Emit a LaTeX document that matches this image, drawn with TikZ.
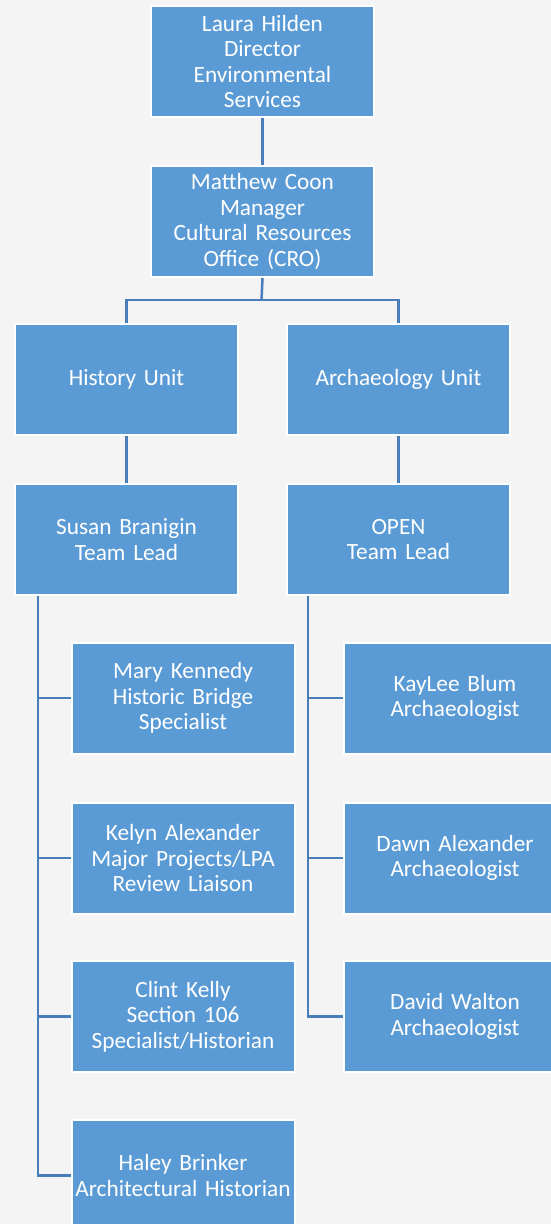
\documentclass[tikz,border=0pt]{standalone}
\usepackage{fontspec}
\setmainfont{Carlito}
\definecolor{bg}{HTML}{F4F4F4}
\definecolor{boxfill}{HTML}{5B9BD5}
\definecolor{connc}{HTML}{4A7EBB}
\begin{document}
\begin{tikzpicture}[x=1pt,y=-1pt,
 box/.style={draw=white, line width=2pt, fill=boxfill, text=white, minimum width=223pt, minimum height=111pt, align=center, inner sep=0pt, font=\fontsize{23.3}{25.5}\selectfont, anchor=north west, text width=222pt},
 conn/.style={draw=connc, line width=2.5pt}]
\useasboundingbox (0,0) rectangle (551,1224);
\clip (0,0) rectangle (551,1224);
\fill[bg] (0,0) rectangle (551,1224);

\node[box] (laura) at (150,5) {Laura Hilden\\Director\\Environmental\\Services};
\node[box] (matt) at (150,165) {Matthew Coon\\Manager\\Cultural Resources\\Office (CRO)};
\node[box] (hist) at (14,323) {History Unit};
\node[box] (arch) at (286,323) {Archaeology Unit};
\node[box] (susan) at (14,483) {Susan Branigin\\Team Lead};
\node[box] (open) at (286,483) {OPEN\\Team Lead};
\node[box] (mary) at (70.5,641.5) {Mary Kennedy\\Historic Bridge\\Specialist};
\node[box] (kelyn) at (70.5,801.5) {Kelyn Alexander\\Major Projects/LPA\\Review Liaison};
\node[box] (clint) at (70.5,960) {Clint Kelly\\Section 106\\Specialist/Historian};
\node[box] (haley) at (70.5,1119) {Haley Brinker\\Architectural Historian};
\node[box] (kaylee) at (342.5,641.5) {KayLee Blum\\Archaeologist};
\node[box] (dawn) at (342.5,801.5) {Dawn Alexander\\Archaeologist};
\node[box] (david) at (342.5,960) {David Walton\\Archaeologist};

\coordinate (bar) at (261.5,300);
\coordinate (lv) at (38,596);
\coordinate (rv) at (308,596);

\draw[conn] (laura.south) -- (matt.north);
\draw[conn] (matt.south) -- (bar);
\draw[conn] (bar) -| (hist.north);
\draw[conn] (bar) -| (arch.north);
\draw[conn] (hist.south) -- (susan.north);
\draw[conn] (arch.south) -- (open.north);
\draw[conn] (lv) |- (haley.west);
\draw[conn] (lv |- mary.west) -- (mary.west);
\draw[conn] (lv |- kelyn.west) -- (kelyn.west);
\draw[conn] (lv |- clint.west) -- (clint.west);
\draw[conn] (rv) |- (david.west);
\draw[conn] (rv |- kaylee.west) -- (kaylee.west);
\draw[conn] (rv |- dawn.west) -- (dawn.west);
\end{tikzpicture}
\end{document}
